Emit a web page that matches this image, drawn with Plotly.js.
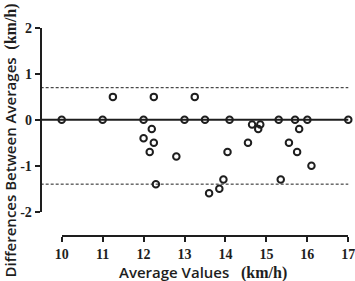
<!DOCTYPE html>
<html>
<head>
<meta charset="utf-8">
<script src="https://cdn.plot.ly/plotly-3.0.1.min.js"></script>
<style>
  html, body { margin: 0; padding: 0; background: #ffffff; }
  #chart { width: 355px; height: 281px; }
</style>
</head>
<body>
<div id="chart"></div>
<script>
// Bland–Altman style agreement plot: mean speed vs. difference between the two averages
const averageValues = [10.0, 11.0, 11.25, 12.0, 12.25, 12.2, 12.0, 12.25, 12.15, 12.3,
                       12.8, 13.0, 13.25, 13.5, 13.6, 13.85, 13.95, 14.05, 14.1, 14.55,
                       14.65, 14.8, 14.85, 15.3, 15.35, 15.55, 15.7, 15.75, 15.8, 16.0,
                       16.1, 17.0];
const differences   = [0, 0, 0.5, 0, 0.5, -0.2, -0.4, -0.5, -0.7, -1.4,
                       -0.8, 0, 0.5, 0, -1.6, -1.5, -1.3, -0.7, 0, -0.5,
                       -0.1, -0.2, -0.1, 0, -1.3, -0.5, 0, -0.7, -0.2, 0,
                       -1.0, 0];

// Reference lines: zero-difference line and upper / lower limits of agreement
const zeroLine   = 0;
const upperLimit = 0.7;
const lowerLimit = -1.4;

const xTickVals = [10, 11, 12, 13, 14, 15, 16, 17];
const xTickText = ['10', '11', '12', '13', '14', '15', '16', '17'];
const yTickVals = [-2, -1, 0, 1, 2];
const yTickText = ['-2', '-1', '0', '1', '2'];

const ink = '#1e1e1e';
const serifBold = { family: 'Liberation Serif, Times New Roman, serif', size: 14, weight: 'bold', color: ink };
const titleFont = { family: 'Open Sans, sans-serif', size: 15, weight: 600, color: ink };
const unitSpan = '<span style="font-family:Liberation Serif;font-weight:bold;font-size:16px">(km/h)</span>';

// Axis placement (paper fractions): offset, detached axes
const xDomain = [0.1738, 0.9811];
const yDomain = [0.2466, 0.9004];
const yAxisPos = 0.1146;
const xAxisPos = 0.1601;

const trace = {
  x: averageValues,
  y: differences,
  type: 'scatter',
  mode: 'markers',
  cliponaxis: false,
  marker: {
    symbol: 'circle-open',
    size: 6.5,
    color: ink,
    line: { color: ink, width: 2 }
  },
  hoverinfo: 'x+y'
};

function hLine(yVal, width, dash) {
  return {
    type: 'line', xref: 'paper', yref: 'y',
    x0: yAxisPos, x1: xDomain[1],
    y0: yVal, y1: yVal,
    line: { color: ink, width: width, dash: dash },
    layer: 'below'
  };
}

const layout = {
  width: 355,
  height: 281,
  margin: { l: 0, r: 0, t: 0, b: 0, pad: 0 },
  paper_bgcolor: '#ffffff',
  plot_bgcolor: '#ffffff',
  showlegend: false,
  xaxis: {
    domain: xDomain,
    range: [10, 17],
    anchor: 'free',
    position: xAxisPos,
    showline: true, linecolor: ink, linewidth: 2,
    ticks: 'outside', ticklen: 5, tickwidth: 2, tickcolor: ink,
    tickvals: xTickVals, ticktext: xTickText,
    tickfont: serifBold,
    ticklabeloverflow: 'allow',
    showgrid: false, zeroline: false,
    automargin: false, fixedrange: true
  },
  yaxis: {
    domain: yDomain,
    range: [-2, 2],
    anchor: 'free',
    position: yAxisPos,
    showline: true, linecolor: ink, linewidth: 2,
    ticks: 'outside', ticklen: 5, tickwidth: 2, tickcolor: ink,
    tickvals: yTickVals, ticktext: yTickText,
    tickfont: serifBold,
    ticklabeloverflow: 'allow',
    showgrid: false, zeroline: false,
    automargin: false, fixedrange: true
  },
  shapes: [
    hLine(zeroLine, 2, 'solid'),
    hLine(upperLimit, 1, '3px,2px'),
    hLine(lowerLimit, 1, '3px,2px')
  ],
  annotations: [
    {
      xref: 'paper', yref: 'paper',
      x: 0.573, y: 0.032,
      xanchor: 'center', yanchor: 'middle',
      showarrow: false,
      font: titleFont,
      text: 'Average Values&nbsp;&nbsp;&nbsp;' + unitSpan
    },
    {
      xref: 'paper', yref: 'paper',
      x: 0.028, y: 0.50,
      xanchor: 'center', yanchor: 'middle',
      textangle: -90,
      showarrow: false,
      font: titleFont,
      text: 'Differences Between Averages&nbsp;&nbsp;' + unitSpan
    }
  ]
};

Plotly.newPlot('chart', [trace], layout, { displayModeBar: false, staticPlot: true });
</script>
</body>
</html>
